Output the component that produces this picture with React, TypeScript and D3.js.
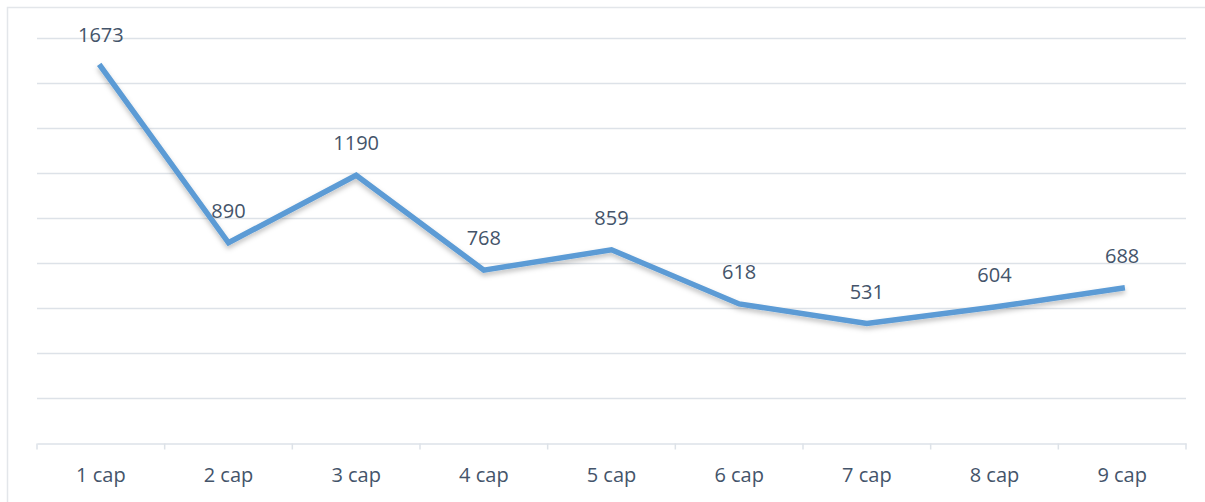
import React, { useEffect, useRef } from "react";
import * as d3 from "d3";

const categories = ["1 cap", "2 cap", "3 cap", "4 cap", "5 cap", "6 cap", "7 cap", "8 cap", "9 cap"];
const values = [1673, 890, 1190, 768, 859, 618, 531, 604, 688];
const yTicks = [0, 200, 400, 600, 800, 1000, 1200, 1400, 1600, 1800];

export default function App() {
  const ref = useRef<SVGSVGElement>(null);

  useEffect(() => {
    const W = 1205;
    const H = 502;
    const plot = { left: 37, right: 1186, top: 38, bottom: 443 };
    const font = "'Open Sans', sans-serif";
    const textColor = "#44546A";

    const svg = d3.select(ref.current);
    svg.selectAll("*").remove();

    // drop shadow for the line
    const defs = svg.append("defs");
    const f = defs.append("filter").attr("id", "shadow").attr("x", "-5%").attr("y", "-5%").attr("width", "110%").attr("height", "130%");
    f.append("feDropShadow").attr("dx", 0).attr("dy", 3).attr("stdDeviation", 2.5).attr("flood-color", "#000").attr("flood-opacity", 0.25);

    svg.append("rect").attr("width", W).attr("height", H).attr("fill", "#fff");
    // chart frame
    svg.append("rect")
      .attr("x", 7.5).attr("y", 7.5).attr("width", W + 20).attr("height", H + 20)
      .attr("fill", "none").attr("stroke", "#E3E6EA").attr("stroke-width", 1.5);

    const x = d3.scaleBand().domain(categories).range([plot.left, plot.right]);
    const y = d3.scaleLinear().domain([0, 1800]).range([plot.bottom, plot.top]);

    // gridlines
    svg.append("g").selectAll("line")
      .data(yTicks.filter((t) => t > 0))
      .join("line")
      .attr("x1", plot.left).attr("x2", plot.right)
      .attr("y1", (d) => Math.round(y(d)) + 0.5).attr("y2", (d) => Math.round(y(d)) + 0.5)
      .attr("stroke", "#DDE2E8").attr("stroke-width", 1.5);

    // x axis
    const xAxis = svg.append("g")
      .attr("transform", `translate(0,${Math.round(plot.bottom) + 0.5})`)
      .call(d3.axisBottom(x).tickSize(0).tickPadding(24));
    xAxis.select(".domain").attr("stroke", "#DDE2E8").attr("stroke-width", 1.5);
    xAxis.selectAll("text")
      .attr("font-family", font).attr("font-size", 20).attr("fill", textColor);

    const edges = categories.map((c) => x(c) as number).concat([plot.right]);
    xAxis.append("g").selectAll("line")
      .data(edges)
      .join("line")
      .attr("x1", (d) => d).attr("x2", (d) => d)
      .attr("y1", 0).attr("y2", 6)
      .attr("stroke", "#DDE2E8").attr("stroke-width", 1.5);

    const cx = (i: number) => (x(categories[i]) as number) + x.bandwidth() / 2;

    const line = d3.line<number>()
      .x((_, i) => cx(i))
      .y((d) => y(d));

    svg.append("path")
      .datum(values)
      .attr("d", line)
      .attr("fill", "none")
      .attr("stroke", "#5B9BD5")
      .attr("stroke-width", 5.5)
      .attr("stroke-linejoin", "miter")
      .attr("stroke-linecap", "square")
      .attr("filter", "url(#shadow)");

    svg.append("g").selectAll("text")
      .data(values)
      .join("text")
      .attr("x", (_, i) => cx(i))
      .attr("y", (d) => y(d) - 25)
      .attr("text-anchor", "middle")
      .attr("font-family", font)
      .attr("font-size", 20)
      .attr("fill", textColor)
      .text((d) => d);
  }, []);

  return (
    <svg
      ref={ref}
      width={1205}
      height={502}
      style={{ position: "absolute", left: 0, top: 0 }}
    />
  );
}
